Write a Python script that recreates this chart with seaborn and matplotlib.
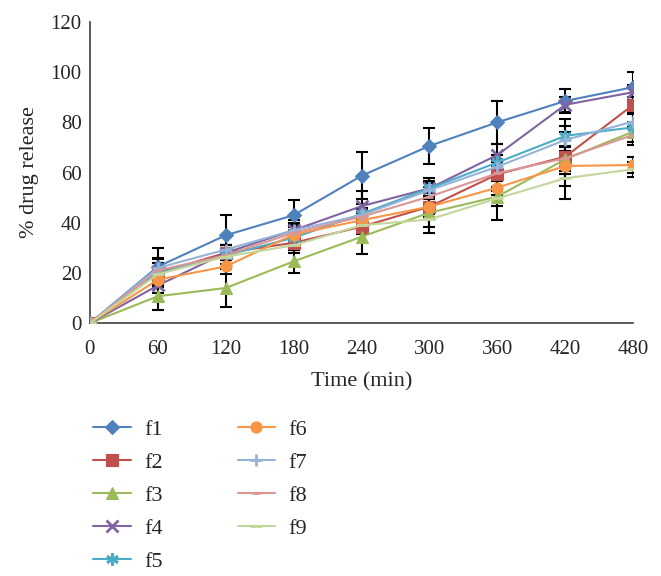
import numpy as np
import pandas as pd
import matplotlib
matplotlib.use("Agg")
import matplotlib.pyplot as plt
import seaborn as sns

# time points (min)
time = [0, 60, 120, 180, 240, 300, 360, 420, 480]

# % drug release per formulation
f1 = [0, 22.5, 35, 43, 58.7, 70.6, 80, 88.5, 94]
f2 = [0, 20, 28, 32, 38.4, 46.4, 59.3, 66.3, 87]
f3 = [0, 10.7, 14, 24.6, 34.4, 44, 50.4, 65.3, 76.3]
f4 = [0, 15, 28, 37, 46.6, 53.7, 67, 87, 92]
f5 = [0, 20.5, 27, 34, 43.5, 53.7, 64, 74.6, 78]
f6 = [0, 17.3, 22.6, 35.3, 41, 46.4, 54, 62.6, 63]
f7 = [0, 22, 29.3, 37, 43, 53, 62.3, 73, 80.3]
f8 = [0, 21, 27, 36, 42.4, 50.4, 59.7, 65.7, 75]
f9 = [0, 19.5, 26.5, 31, 39, 41.3, 49.7, 57.7, 61.3]

# standard deviations (error bars)
e1 = [0, 7.5, 8, 6, 9.4, 7.3, 8.6, 4.7, 6]
e2 = [0, 4, 3, 3, 3, 4, 5, 4, 3]
e3 = [0, 5.5, 7.5, 4.6, 7, 8, 9.5, 16, 4]
e4 = [0, 3, 3, 4, 6, 4, 4.5, 3, 3]
e5 = [0, 5, 2, 3, 4, 3, 3, 4, 7]
e6 = [0, 3, 3, 3, 3, 3, 3, 3, 3]
e7 = [0, 4, 2, 3, 3, 3, 3, 3, 3]
e8 = [0, 3, 2, 3, 3, 4, 3, 3, 3]
e9 = [0, 3, 3, 3, 3, 3, 3, 3, 3]

names = ["f1", "f2", "f3", "f4", "f5", "f6", "f7", "f8", "f9"]
values = [f1, f2, f3, f4, f5, f6, f7, f8, f9]
errors = [e1, e2, e3, e4, e5, e6, e7, e8, e9]

colors = ["#4F81BD", "#C0504D", "#9BBB59", "#8064A2", "#4BACC6",
          "#F79646", "#95B3D7", "#D99694", "#C3D69B"]
markers = ["D", "s", "^", "x", (6, 2, 0), "o", "+", "_", "_"]
msizes = [7, 8, 8, 8, 9, 8, 9, 6, 9]

df = pd.DataFrame({
    "time": np.tile(time, len(names)),
    "release": np.concatenate(values),
    "err": np.concatenate(errors),
    "form": np.repeat(names, len(time)),
})

sns.set_style("white")
plt.rcParams["font.family"] = ["Liberation Serif", "DejaVu Serif"]

fig = plt.figure(figsize=(6.61, 5.76), dpi=100)
ax = fig.add_axes([0.136, 0.439, 0.822, 0.523])

# black error bars under the lines
for n in names:
    d = df[df.form == n]
    ax.errorbar(d.time, d.release, yerr=d.err, fmt="none", ecolor="black",
                elinewidth=1.5, capsize=4, capthick=1.5, zorder=1)

handles = []
for n, c, m, s in zip(names, colors, markers, msizes):
    d = df[df.form == n]
    sns.lineplot(data=d, x="time", y="release", color=c, marker=m,
                 markersize=s, markeredgewidth=2 if m in ("_", "+", "x") or isinstance(m, tuple) else 0.8,
                 markeredgecolor=c, linewidth=1.5, ax=ax, zorder=3)
    handles.append(ax.get_lines()[-1])

ax.set_xlim(0, 480)
ax.set_ylim(0, 120)
ax.set_xticks(range(0, 481, 60))
ax.set_yticks(range(0, 121, 20))
ax.tick_params(labelsize=15, length=0)
ax.tick_params(axis="x", pad=12)
ax.tick_params(axis="y", pad=6)
ax.set_xlabel("Time (min)", fontsize=16, labelpad=10)
ax.set_ylabel("% drug release", fontsize=16, labelpad=8)
for s in ["top", "right"]:
    ax.spines[s].set_visible(False)
for s in ["left", "bottom"]:
    ax.spines[s].set_color("#404040")
    ax.spines[s].set_linewidth(1.2)

fig.legend(handles, names, ncol=2, loc="upper left", bbox_to_anchor=(0.111, 0.307),
           frameon=False, fontsize=16, handlelength=1.7, columnspacing=3.35,
           labelspacing=0.56, handletextpad=0.6)

fig.savefig("out.png", dpi=100)
